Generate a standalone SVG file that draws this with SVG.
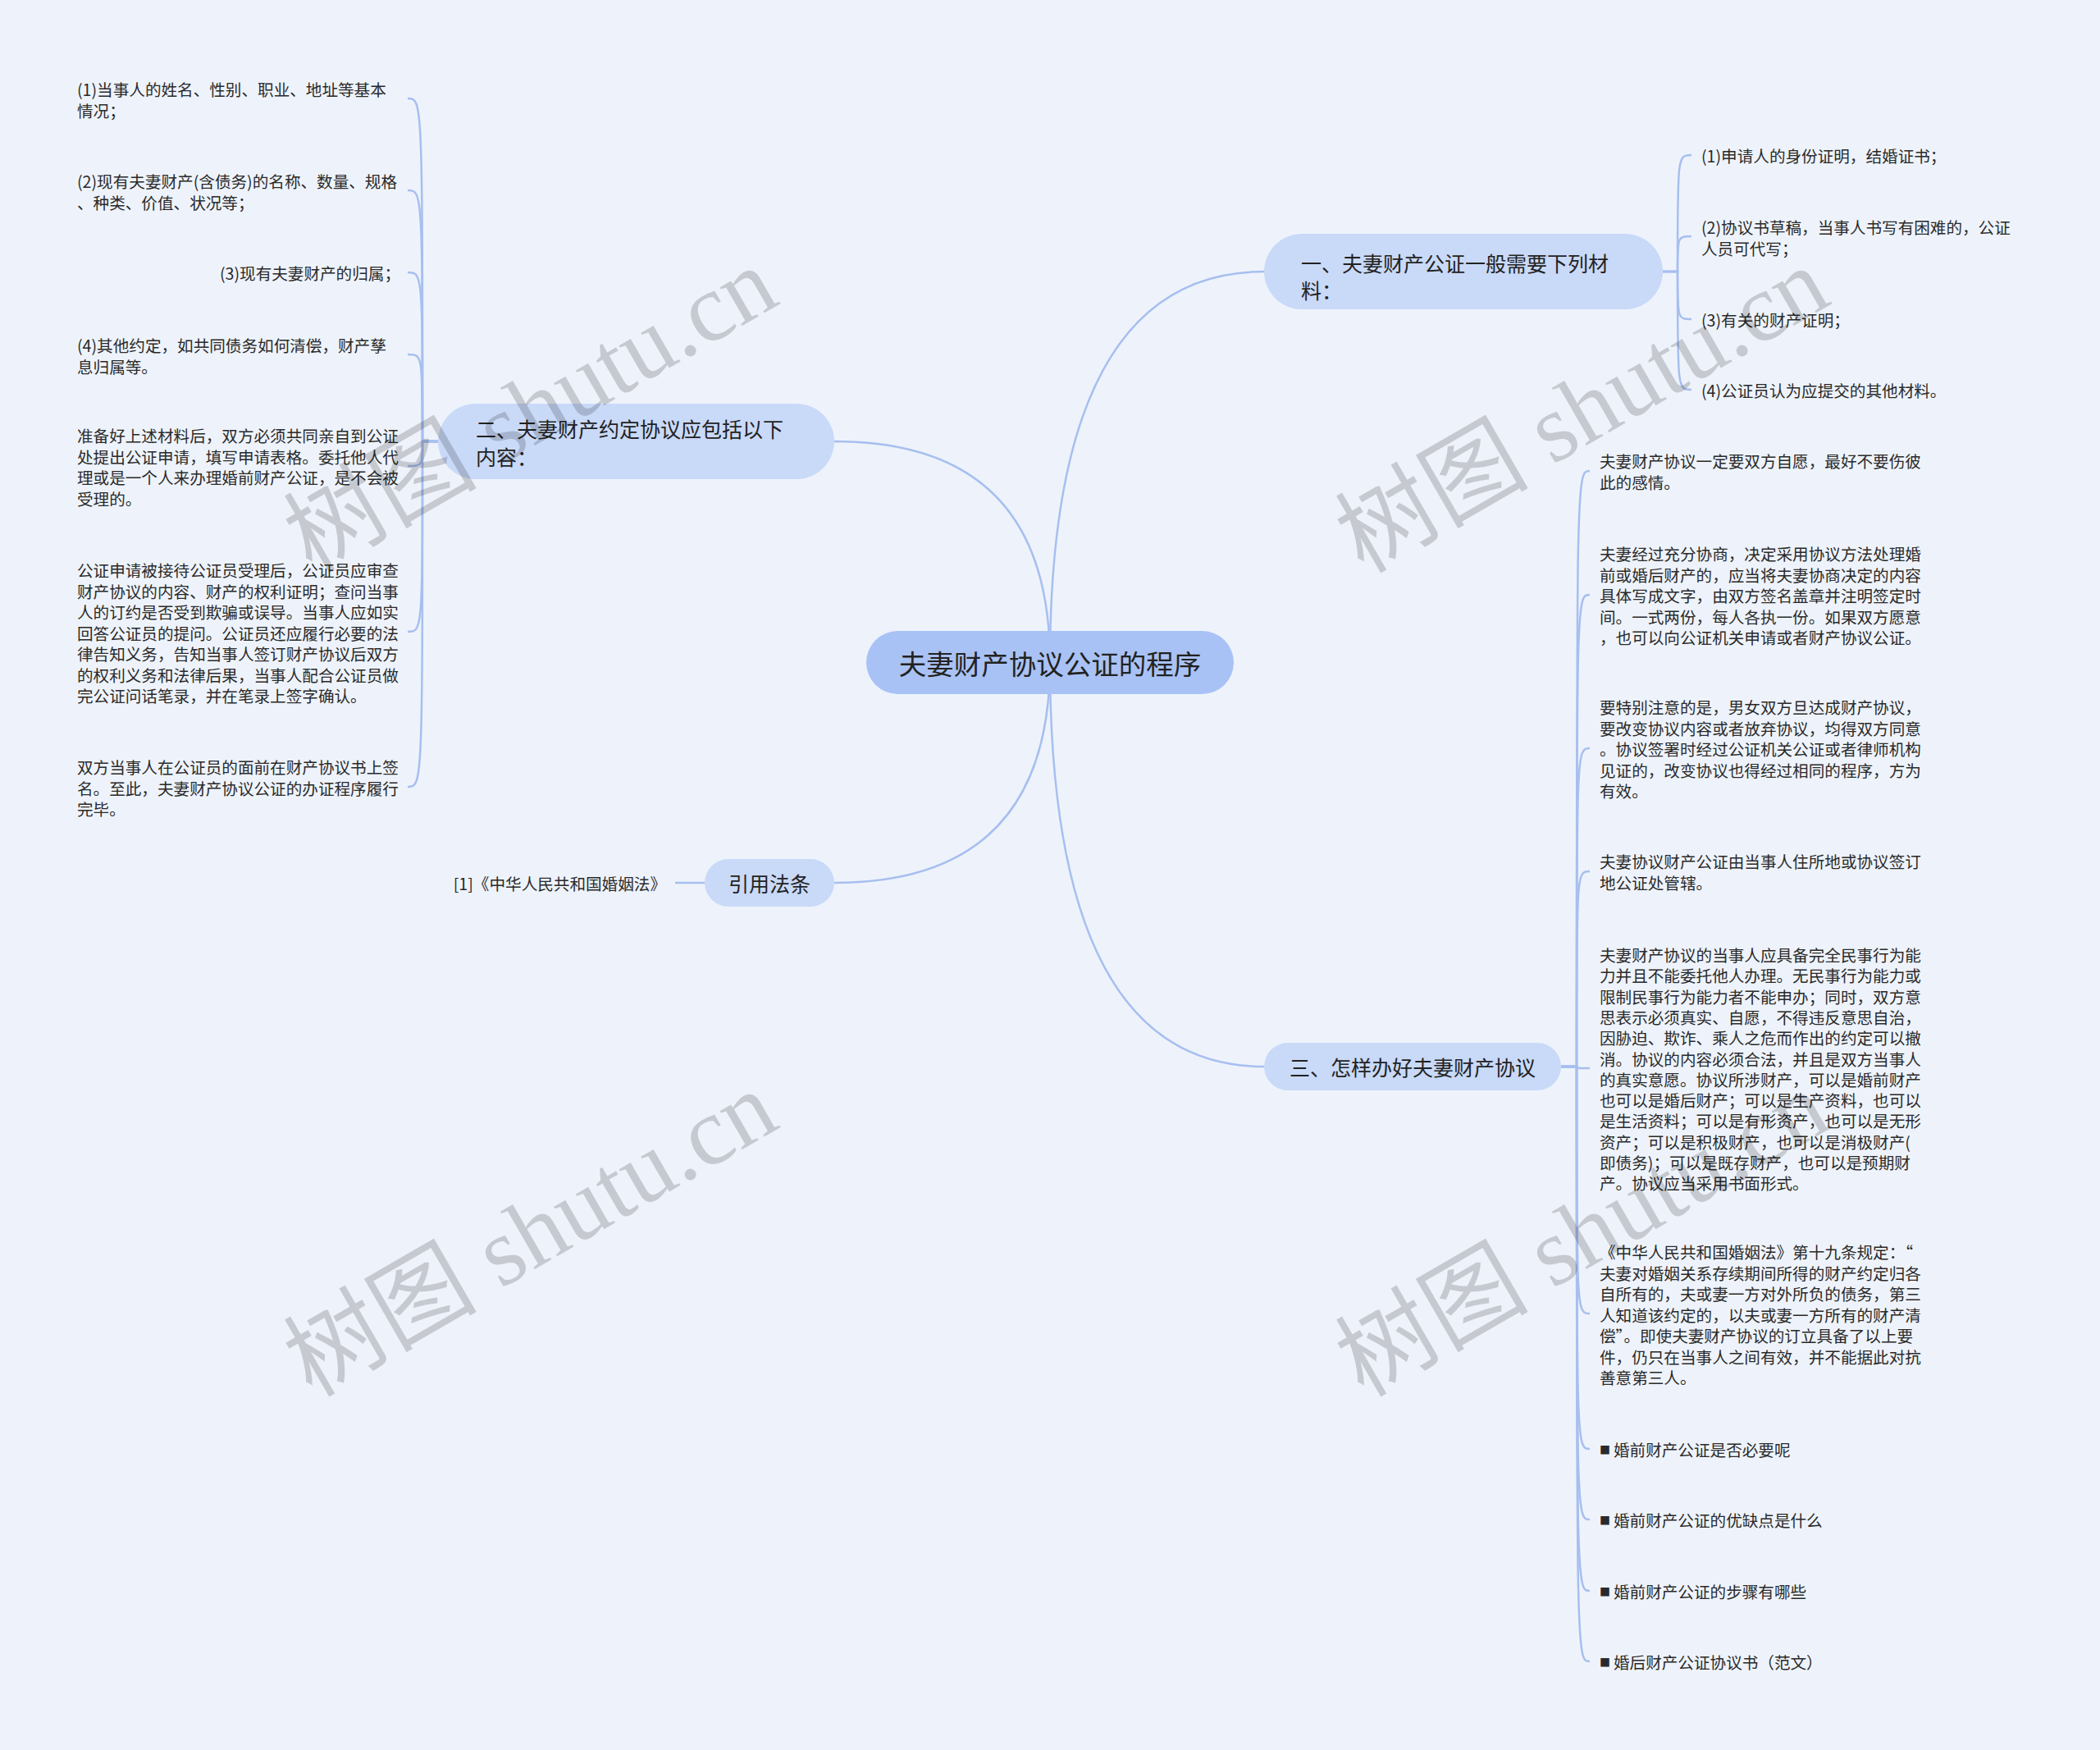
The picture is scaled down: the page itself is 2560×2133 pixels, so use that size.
<svg xmlns="http://www.w3.org/2000/svg" width="2560" height="2133" viewBox="0 0 2560 2133">
<style>
.bg{fill:#eef3fb}
.root rect{fill:#a9c2f5}
.branch rect{fill:#c9d9f8}
text{font-family:"Noto Sans CJK SC","Noto Sans",sans-serif;fill:#222;dominant-baseline:central}
.rt{font-size:33.5px}
.bt{font-size:25px}
.lt{font-size:19.6px;fill:#2a2a2a}
.conn path{fill:none;stroke:#a7bff0;stroke-width:2.5}
.wm text{font-family:"Liberation Serif","Noto Sans CJK SC",serif;font-size:118px;fill:#000;fill-opacity:0.17;dominant-baseline:alphabetic}
</style>
<rect class="bg" x="0" y="0" width="2560" height="2133"/>

<g id="connectors" class="conn">
  <!-- root to branches -->
  <path d="M1280 807 Q1280 331 1541 331"/>
  <path d="M1280 807 Q1280 538 1017 538"/>
  <path d="M1280 807 Q1280 1076 1017 1076"/>
  <path d="M1280 807 Q1280 1300 1541 1300"/>
  <!-- branch 一 children -->
  <path d="M2027 331 L2045 331 C2045 189 2045 189 2062 189"/>
  <path d="M2027 331 L2045 331 C2045 288 2045 288 2062 288"/>
  <path d="M2027 331 L2045 331 C2045 389 2045 389 2062 389"/>
  <path d="M2027 331 L2045 331 C2045 475 2045 475 2062 475"/>
  <!-- branch 二 children -->
  <path d="M534 538 L515 538 C515 120 515 120 497 120"/>
  <path d="M534 538 L515 538 C515 232 515 232 497 232"/>
  <path d="M534 538 L515 538 C515 332 515 332 497 332"/>
  <path d="M534 538 L515 538 C515 432 515 432 497 432"/>
  <path d="M534 538 L515 538 C515 568 515 568 497 568"/>
  <path d="M534 538 L515 538 C515 770 515 770 497 770"/>
  <path d="M534 538 L515 538 C515 959 515 959 497 959"/>
  <!-- 引用法条 child -->
  <path d="M859 1076 L823 1076"/>
  <!-- branch 三 children -->
  <path d="M1903 1300 L1922 1300 C1922 574 1922 574 1938 574"/>
  <path d="M1903 1300 L1922 1300 C1922 725 1922 725 1938 725"/>
  <path d="M1903 1300 L1922 1300 C1922 912 1922 912 1938 912"/>
  <path d="M1903 1300 L1922 1300 C1922 1062 1922 1062 1938 1062"/>
  <path d="M1903 1300 L1922 1300 C1922 1302 1922 1302 1938 1302"/>
  <path d="M1903 1300 L1922 1300 C1922 1601 1922 1601 1938 1601"/>
  <path d="M1903 1300 L1922 1300 C1922 1766 1922 1766 1938 1766"/>
  <path d="M1903 1300 L1922 1300 C1922 1852 1922 1852 1938 1852"/>
  <path d="M1903 1300 L1922 1300 C1922 1939 1922 1939 1938 1939"/>
  <path d="M1903 1300 L1922 1300 C1922 2025 1922 2025 1938 2025"/>
</g>

<g id="root" class="root">
  <rect x="1056" y="769" width="448" height="77" rx="38.5"/>
  <text class="rt" x="1280" y="807" text-anchor="middle">夫妻财产协议公证的程序</text>
</g>

<g id="branch1" class="branch">
  <rect x="1541" y="285" width="486" height="92" rx="46"/>
  <text class="bt"><tspan x="1586" y="320">一、夫妻财产公证一般需要下列材</tspan><tspan x="1586" y="353">料：</tspan></text>
</g>
<g id="branch2" class="branch">
  <rect x="534" y="492" width="483" height="92" rx="46"/>
  <text class="bt"><tspan x="580" y="522">二、夫妻财产约定协议应包括以下</tspan><tspan x="580" y="556">内容：</tspan></text>
</g>
<g id="branch3" class="branch">
  <rect x="1541" y="1271" width="362" height="58" rx="29"/>
  <text class="bt" x="1722" y="1300" text-anchor="middle">三、怎样办好夫妻财产协议</text>
</g>
<g id="branch4" class="branch">
  <rect x="859" y="1047" width="158" height="58" rx="29"/>
  <text class="bt" x="938" y="1076" text-anchor="middle">引用法条</text>
</g>

<!-- branch 一 leaves -->
<g id="b1-l1"><text class="lt" x="2074" y="189">(1)申请人的身份证明，结婚证书；</text></g>
<g id="b1-l2"><text class="lt"><tspan x="2074" y="276">(2)协议书草稿，当事人书写有困难的，公证</tspan><tspan x="2074" y="301.5">人员可代写；</tspan></text></g>
<g id="b1-l3"><text class="lt" x="2074" y="389">(3)有关的财产证明；</text></g>
<g id="b1-l4"><text class="lt" x="2074" y="475">(4)公证员认为应提交的其他材料。</text></g>

<!-- branch 二 leaves -->
<g id="b2-l1"><text class="lt"><tspan x="94" y="108">(1)当事人的姓名、性别、职业、地址等基本</tspan><tspan x="94" y="133.5">情况；</tspan></text></g>
<g id="b2-l2"><text class="lt"><tspan x="94" y="220">(2)现有夫妻财产(含债务)的名称、数量、规格</tspan><tspan x="94" y="245.5">、种类、价值、状况等；</tspan></text></g>
<g id="b2-l3"><text class="lt" x="488" y="332" text-anchor="end">(3)现有夫妻财产的归属；</text></g>
<g id="b2-l4"><text class="lt"><tspan x="94" y="420">(4)其他约定，如共同债务如何清偿，财产孳</tspan><tspan x="94" y="445.5">息归属等。</tspan></text></g>
<g id="b2-l5"><text class="lt"><tspan x="94" y="530">准备好上述材料后，双方必须共同亲自到公证</tspan><tspan x="94" y="555.5">处提出公证申请，填写申请表格。委托他人代</tspan><tspan x="94" y="581">理或是一个人来办理婚前财产公证，是不会被</tspan><tspan x="94" y="606.5">受理的。</tspan></text></g>
<g id="b2-l6"><text class="lt"><tspan x="94" y="694">公证申请被接待公证员受理后，公证员应审查</tspan><tspan x="94" y="719.5">财产协议的内容、财产的权利证明；查问当事</tspan><tspan x="94" y="745">人的订约是否受到欺骗或误导。当事人应如实</tspan><tspan x="94" y="770.5">回答公证员的提问。公证员还应履行必要的法</tspan><tspan x="94" y="796">律告知义务，告知当事人签订财产协议后双方</tspan><tspan x="94" y="821.5">的权利义务和法律后果，当事人配合公证员做</tspan><tspan x="94" y="847">完公证问话笔录，并在笔录上签字确认。</tspan></text></g>
<g id="b2-l7"><text class="lt"><tspan x="94" y="934">双方当事人在公证员的面前在财产协议书上签</tspan><tspan x="94" y="959.5">名。至此，夫妻财产协议公证的办证程序履行</tspan><tspan x="94" y="985">完毕。</tspan></text></g>

<!-- 引用法条 leaf -->
<g id="b4-l1"><text class="lt" x="812" y="1076" text-anchor="end">[1]《中华人民共和国婚姻法》</text></g>

<!-- branch 三 leaves -->
<g id="b3-l1"><text class="lt"><tspan x="1950" y="561">夫妻财产协议一定要双方自愿，最好不要伤彼</tspan><tspan x="1950" y="586.5">此的感情。</tspan></text></g>
<g id="b3-l2"><text class="lt"><tspan x="1950" y="674">夫妻经过充分协商，决定采用协议方法处理婚</tspan><tspan x="1950" y="699.5">前或婚后财产的，应当将夫妻协商决定的内容</tspan><tspan x="1950" y="725">具体写成文字，由双方签名盖章并注明签定时</tspan><tspan x="1950" y="750.5">间。一式两份，每人各执一份。如果双方愿意</tspan><tspan x="1950" y="776">，也可以向公证机关申请或者财产协议公证。</tspan></text></g>
<g id="b3-l3"><text class="lt"><tspan x="1950" y="861">要特别注意的是，男女双方旦达成财产协议，</tspan><tspan x="1950" y="886.5">要改变协议内容或者放弃协议，均得双方同意</tspan><tspan x="1950" y="912">。协议签署时经过公证机关公证或者律师机构</tspan><tspan x="1950" y="937.5">见证的，改变协议也得经过相同的程序，方为</tspan><tspan x="1950" y="963">有效。</tspan></text></g>
<g id="b3-l4"><text class="lt"><tspan x="1950" y="1049">夫妻协议财产公证由当事人住所地或协议签订</tspan><tspan x="1950" y="1074.5">地公证处管辖。</tspan></text></g>
<g id="b3-l5"><text class="lt"><tspan x="1950" y="1163">夫妻财产协议的当事人应具备完全民事行为能</tspan><tspan x="1950" y="1188.3">力并且不能委托他人办理。无民事行为能力或</tspan><tspan x="1950" y="1213.6">限制民事行为能力者不能申办；同时，双方意</tspan><tspan x="1950" y="1238.9">思表示必须真实、自愿，不得违反意思自治，</tspan><tspan x="1950" y="1264.2">因胁迫、欺诈、乘人之危而作出的约定可以撤</tspan><tspan x="1950" y="1289.5">消。协议的内容必须合法，并且是双方当事人</tspan><tspan x="1950" y="1314.8">的真实意愿。协议所涉财产，可以是婚前财产</tspan><tspan x="1950" y="1340.1">也可以是婚后财产；可以是生产资料，也可以</tspan><tspan x="1950" y="1365.4">是生活资料；可以是有形资产，也可以是无形</tspan><tspan x="1950" y="1390.7">资产；可以是积极财产，也可以是消极财产(</tspan><tspan x="1950" y="1416">即债务)；可以是既存财产，也可以是预期财</tspan><tspan x="1950" y="1441.3">产。协议应当采用书面形式。</tspan></text></g>
<g id="b3-l6"><text class="lt"><tspan x="1950" y="1525">《中华人民共和国婚姻法》第十九条规定：“</tspan><tspan x="1950" y="1550.5">夫妻对婚姻关系存续期间所得的财产约定归各</tspan><tspan x="1950" y="1576">自所有的，夫或妻一方对外所负的债务，第三</tspan><tspan x="1950" y="1601.5">人知道该约定的，以夫或妻一方所有的财产清</tspan><tspan x="1950" y="1627">偿”。即使夫妻财产协议的订立具备了以上要</tspan><tspan x="1950" y="1652.5">件，仍只在当事人之间有效，并不能据此对抗</tspan><tspan x="1950" y="1678">善意第三人。</tspan></text></g>
<g id="b3-l7"><text class="lt" x="1950" y="1766"><tspan font-size="13">■</tspan><tspan x="1967">婚前财产公证是否必要呢</tspan></text></g>
<g id="b3-l8"><text class="lt" x="1950" y="1852"><tspan font-size="13">■</tspan><tspan x="1967">婚前财产公证的优缺点是什么</tspan></text></g>
<g id="b3-l9"><text class="lt" x="1950" y="1939"><tspan font-size="13">■</tspan><tspan x="1967">婚前财产公证的步骤有哪些</tspan></text></g>
<g id="b3-l10"><text class="lt" x="1950" y="2025"><tspan font-size="13">■</tspan><tspan x="1967">婚后财产公证协议书（范文）</tspan></text></g>

<g id="watermarks" class="wm">
  <text transform="translate(380,700) rotate(-30)">树图 shutu.cn</text>
  <text transform="translate(1662,700) rotate(-30)">树图 shutu.cn</text>
  <text transform="translate(380,1704) rotate(-30)">树图 shutu.cn</text>
  <text transform="translate(1662,1704) rotate(-30)">树图 shutu.cn</text>
</g>
</svg>
